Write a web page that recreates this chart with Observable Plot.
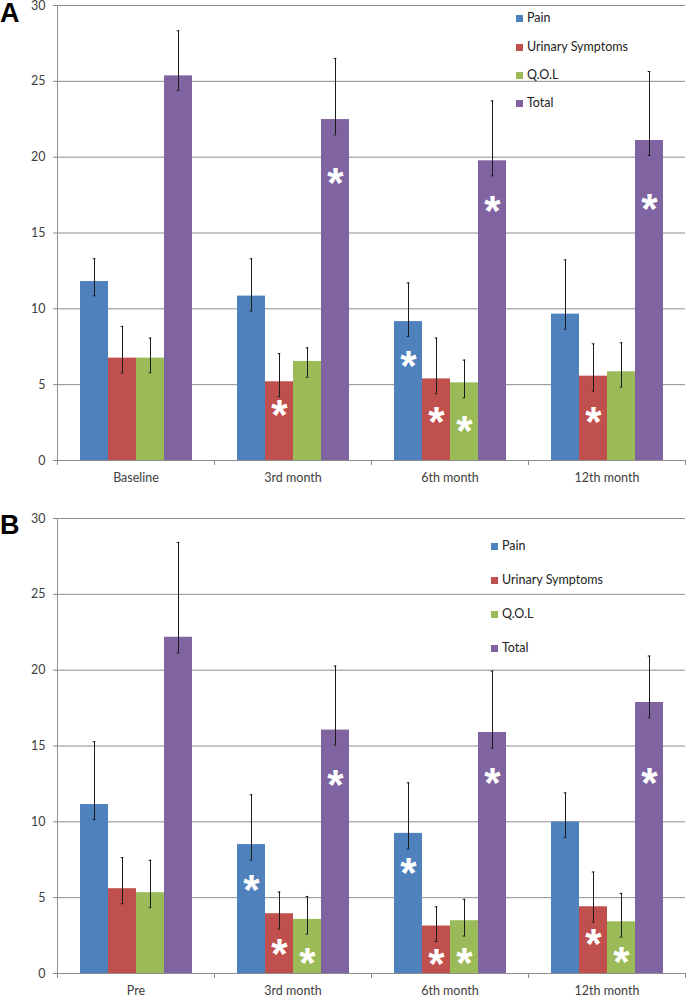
<!DOCTYPE html>
<html><head><meta charset="utf-8">
<script src="https://cdn.jsdelivr.net/npm/d3@7"></script>
<script src="https://cdn.jsdelivr.net/npm/@observablehq/plot@0.6"></script>
<style>
body{margin:0;background:#fff;}
#root{position:relative;width:687px;height:995px;overflow:hidden;font-family:Lato,"Open Sans",sans-serif;}
.panel{position:absolute;left:0;width:687px;}
.panel svg{display:block;}
.letter{position:absolute;left:0;font:bold 27px "Liberation Sans",Arial,sans-serif;color:#000;line-height:1;}
.legend-item{position:absolute;white-space:nowrap;display:flex;align-items:center;font-size:12.5px;color:#222;line-height:1;}
.legend-item .sw{width:7px;height:7px;margin-right:4px;flex:none;}
</style></head><body><div id="root"></div><script>
// ---------- data ----------
const seriesNames = ["Pain", "Urinary Symptoms", "Q.O.L", "Total"];
const seriesColors = ["#4F81BD", "#C0504D", "#9BBB59", "#8064A2"];
const yTicks = [0, 5, 10, 15, 20, 25, 30];

// Panel A
const categoriesA = ["Baseline", "3rd month", "6th month", "12th month"];
const painA = [11.80, 10.84, 9.16, 9.65];
const painA_hi = [13.30, 13.30, 11.71, 13.23];
const painA_lo = [10.86, 9.85, 8.18, 8.66];
const urinaryA = [6.75, 5.19, 5.38, 5.56];
const urinaryA_hi = [8.84, 7.05, 8.07, 7.69];
const urinaryA_lo = [5.76, 4.20, 4.40, 4.57];
const qolA = [6.75, 6.53, 5.12, 5.85];
const qolA_hi = [8.07, 7.43, 6.62, 7.76];
const qolA_lo = [5.78, 5.49, 4.13, 4.84];
const totalA = [25.36, 22.48, 19.76, 21.10];
const totalA_hi = [28.33, 26.51, 23.71, 25.65];
const totalA_lo = [24.40, 21.47, 18.77, 20.11];
// significance marks: [category index, series index, value where the mark sits]
const starsA = [[1,1,3.63],[1,3,18.9],[2,0,6.86],[2,1,3.19],[2,2,2.57],[2,3,17.1],[3,1,3.19],[3,3,17.2]];

// Panel B
const categoriesB = ["Pre", "3rd month", "6th month", "12th month"];
const painB = [11.14, 8.50, 9.24, 9.99];
const painB_hi = [15.28, 11.78, 12.57, 11.91];
const painB_lo = [10.15, 7.48, 8.21, 8.98];
const urinaryB = [5.59, 3.94, 3.13, 4.40];
const urinaryB_hi = [7.64, 5.37, 4.40, 6.69];
const urinaryB_lo = [4.60, 2.93, 2.11, 3.39];
const qolB = [5.33, 3.57, 3.48, 3.41];
const qolB_hi = [7.46, 5.08, 4.89, 5.28];
const qolB_lo = [4.34, 2.60, 2.47, 2.40];
const totalB = [22.17, 16.05, 15.89, 17.87];
const totalB_hi = [28.42, 20.27, 19.94, 20.93];
const totalB_lo = [21.13, 15.06, 14.86, 16.86];
const starsB = [[1,0,6.12],[1,1,1.94],[1,2,1.32],[1,3,13.05],[2,0,7.22],[2,1,1.28],[2,2,1.32],[2,3,13.21],[3,1,2.60],[3,2,1.39],[3,3,13.21]];

// ---------- build ----------
const gridColor = "#8c8c8c";
const textColor = "#404040";
const errColor = "#1a1a1a";

function buildRows(cats, means, his, los) {
  const rows = [];
  cats.forEach((c, i) => seriesNames.forEach((s, j) =>
    rows.push({cat: c, series: s, value: means[j][i], hi: his[j][i], lo: los[j][i]})));
  return rows;
}
function buildStars(cats, stars) {
  return stars.map(([ci, si, v]) => ({cat: cats[ci], series: seriesNames[si], at: v}));
}

function panel(cats, rows, stars, height, marginBottom) {
  const W = 687, ML = 57, MR = 2;
  const bw = (W - ML - MR) / cats.length;
  return Plot.plot({
    width: W, height, marginLeft: ML, marginRight: MR, marginTop: 5, marginBottom,
    style: {fontFamily: "Lato, 'Open Sans', sans-serif", fontSize: "12.5px", color: textColor, background: "#fff", overflow: "visible"},
    fx: {domain: cats, padding: 0, label: null},
    x: {domain: seriesNames, paddingInner: 0, paddingOuter: 0.754, axis: null},
    y: {domain: [0, 30], label: null},
    color: {domain: seriesNames, range: seriesColors},
    marks: [
      Plot.gridY(yTicks, {stroke: gridColor, strokeOpacity: 1}),
      Plot.frame({anchor: "left", facetAnchor: "left", stroke: gridColor, strokeOpacity: 1}),
      Plot.axisY(yTicks, {tickSize: 4, tickPadding: 8, stroke: gridColor, fill: textColor, fontSize: 12.5, label: null}),
      Plot.barY(rows, {fx: "cat", x: "series", y: "value", fill: "series"}),
      Plot.ruleX(rows, {fx: "cat", x: "series", y1: "lo", y2: "hi", stroke: errColor, strokeWidth: 1}),
      Plot.tickY(rows, {fx: "cat", x: "series", y: "hi", stroke: errColor, insetLeft: 12.7, insetRight: 12.7}),
      Plot.tickY(rows, {fx: "cat", x: "series", y: "lo", stroke: errColor, insetLeft: 12.7, insetRight: 12.7}),
      Plot.text(stars, {fx: "cat", x: "series", y: "at", text: () => "*", fill: "white",
        fontSize: 42, fontWeight: "bold", fontFamily: "'Liberation Sans', Arial, sans-serif",
        lineAnchor: "middle", dy: 10}),
      Plot.ruleY([0], {stroke: gridColor}),
      Plot.axisFx({anchor: "bottom", tickSize: 0, tickPadding: 13, fontSize: 12.5, fill: textColor, label: null}),
      Plot.axisFx({anchor: "bottom", tickSize: 5, tickFormat: () => "", stroke: gridColor, dx: -bw / 2, label: null}),
      Plot.axisFx([cats[cats.length - 1]], {anchor: "bottom", tickSize: 5, tickFormat: () => "", stroke: gridColor, dx: bw / 2, label: null})
    ]
  });
}

function legend(container, left, tops) {
  seriesNames.forEach((s, i) => {
    const item = document.createElement("div");
    item.className = "legend-item";
    item.style.left = left + "px";
    item.style.top = (tops[i] - 7) + "px";
    item.style.height = "14px";
    const sw = document.createElement("span");
    sw.className = "sw";
    sw.style.background = seriesColors[i];
    const t = document.createElement("span");
    t.textContent = s;
    item.appendChild(sw); item.appendChild(t);
    container.appendChild(item);
  });
}

const root = document.getElementById("root");

const pA = document.createElement("div");
pA.className = "panel"; pA.style.top = "0px"; pA.style.height = "513px";
pA.appendChild(panel(categoriesA,
  buildRows(categoriesA, [painA, urinaryA, qolA, totalA], [painA_hi, urinaryA_hi, qolA_hi, totalA_hi], [painA_lo, urinaryA_lo, qolA_lo, totalA_lo]),
  buildStars(categoriesA, starsA), 513, 53));
legend(pA, 516, [18, 47, 75, 103]);
const lA = document.createElement("div");
lA.className = "letter"; lA.style.top = "0px"; lA.textContent = "A";
pA.appendChild(lA);
root.appendChild(pA);

const pB = document.createElement("div");
pB.className = "panel"; pB.style.top = "513px"; pB.style.height = "482px";
pB.appendChild(panel(categoriesB,
  buildRows(categoriesB, [painB, urinaryB, qolB, totalB], [painB_hi, urinaryB_hi, qolB_hi, totalB_hi], [painB_lo, urinaryB_lo, qolB_lo, totalB_lo]),
  buildStars(categoriesB, starsB), 482, 22));
legend(pB, 491, [33, 67, 101, 135]);
const lB = document.createElement("div");
lB.className = "letter"; lB.style.top = "-1px"; lB.textContent = "B";
pB.appendChild(lB);
root.appendChild(pB);
</script></body></html>
